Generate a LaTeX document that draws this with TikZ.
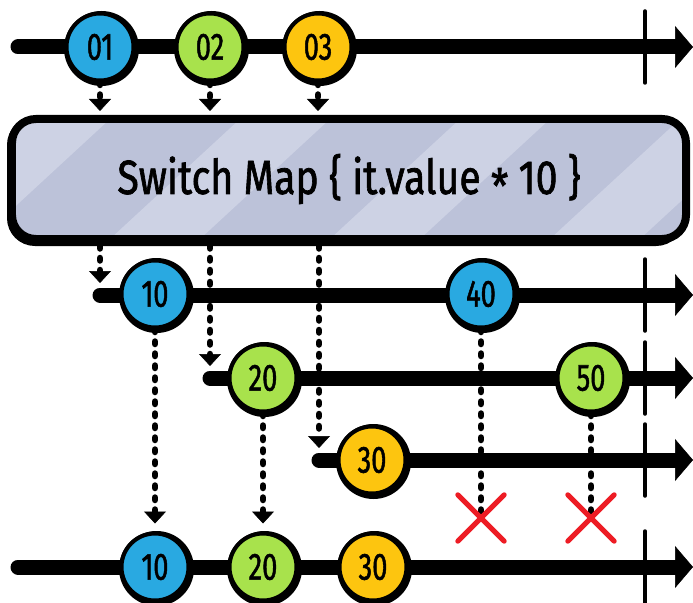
\documentclass[tikz,border=0pt]{standalone}
\usepackage{fontspec}
\setmainfont{Fira Sans}
\newfontfamily\sketchfont{Fira Sans}[FakeBold=1.6]
\usetikzlibrary{arrows.meta,calc}
\definecolor{cblue}{HTML}{29A9E1}
\definecolor{cgreen}{HTML}{A8E24C}
\definecolor{cyellow}{HTML}{FDC50F}
\definecolor{boxfill}{HTML}{BCC2D9}
\definecolor{boxlight}{HTML}{CDD2E4}
\definecolor{xred}{HTML}{ED1C24}
\newcommand\marbleat[5]{%
  \fill[black] (#2+1.5,#3+1.5) circle[radius=37.5];
  \node[marble,fill=#4] (#1) at (#2,#3) {\scalebox{0.72}[1]{#5}};}
\begin{document}
\begin{tikzpicture}[x=1bp,y=-1bp,
  timeline/.style={line width=15bp, line cap=round, -{Triangle[width=42bp,length=18bp,line width=0.5bp]}},
  tickmark/.style={line width=3.5bp, line cap=round},
  marble/.style={circle, draw=black, line width=4bp, minimum size=67bp, inner sep=0pt, font=\sketchfont\fontsize{38}{38}\selectfont},
  dotline/.style={line width=6.5bp, line cap=round, dash pattern=on 2.5bp off 9.5bp},
  dotarrow/.style={dotline, -{Triangle[width=22bp,length=12bp,line width=0.5bp]}},
  crossmark/.style={rectangle, minimum width=46bp, minimum height=46bp, inner sep=0pt},
  crossstroke/.style={draw=xred, line width=5bp, line cap=round}
]
\useasboundingbox (0,0) rectangle (693,603);

% operator box
\fill[black, rounded corners=28] (7,117) rectangle (684,246);
\begin{scope}
  \clip[rounded corners=24] (12,119) rectangle (686,239);
  \fill[boxfill] (0,100) rectangle (693,260);
  \foreach \a in {40,260,480,700}
    \fill[boxlight] (\a-150,239) -- (\a-60,239) -- (\a+70,119) -- (\a-20,119) -- cycle;
\end{scope}
\node[draw, line width=8bp, rounded corners=24, minimum width=674bp, minimum height=120bp,
      inner sep=0pt, font=\sketchfont\fontsize{48}{48}\selectfont] (box) at (349,179)
      {\scalebox{0.82}[1]{Switch Map \{ it.value {\raisebox{-0.2em}{*}} 10 \}}};

% timelines
\coordinate (l1s) at (18,47);   \coordinate (l1e) at (693,47);
\coordinate (l2s) at (100,295); \coordinate (l2e) at (693,295);
\coordinate (l3s) at (210,378); \coordinate (l3e) at (693,378);
\coordinate (l4s) at (319,460); \coordinate (l4e) at (693,460);
\coordinate (l5s) at (18,567);  \coordinate (l5e) at (693,567);
\foreach \n in {1,...,5} \draw[timeline] (l\n s) -- (l\n e);

% completion ticks
\foreach \y in {47,295,378,460,567}
  \draw[tickmark] (645,\y-36) -- (645,\y+36);

% marbles
\marbleat{m01}{100}{47}{cblue}{01}
\marbleat{m02}{210}{47}{cgreen}{02}
\marbleat{m03}{318}{47}{cyellow}{03}
\marbleat{m10}{155}{294}{cblue}{10}
\marbleat{m40}{481}{294}{cblue}{40}
\marbleat{m20}{263}{378}{cgreen}{20}
\marbleat{m50}{591}{378}{cgreen}{50}
\marbleat{m30}{372}{460}{cyellow}{30}
\marbleat{o10}{155}{567}{cblue}{10}
\marbleat{o20}{263}{567}{cgreen}{20}
\marbleat{o30}{373}{567}{cyellow}{30}

% connectors
\draw[dotarrow] (m01.south) -- ($(box.north -| m01)+(0,-4)$);
\draw[dotarrow] (m02.south) -- ($(box.north -| m02)+(0,-4)$);
\draw[dotarrow] (m03.south) -- ($(box.north -| m03)+(0,-4)$);
\draw[dotarrow] ($(box.south -| l2s)+(0,3)$) -- ($(l2s)+(0,-12)$);
\draw[dotarrow] ($(box.south -| l3s)+(0,3)$) -- ($(l3s)+(0,-12)$);
\draw[dotarrow] ($(box.south -| l4s)+(0,3)$) -- ($(l4s)+(0,-12)$);
\draw[dotarrow, shorten >=8bp] (m10.south) -- (o10.north);
\draw[dotarrow, shorten >=8bp] (m20.south) -- (o20.north);

% cancelled emissions
\node[crossmark] (x40) at (481,518) {};
\node[crossmark] (x50) at (591,518) {};
\draw[dotline] (m40.south) -- ($(x40.center)+(0,-6)$);
\draw[dotline] (m50.south) -- ($(x50.center)+(0,-6)$);
\foreach \c in {x40,x50} {
  \draw[crossstroke] (\c.north west) -- (\c.south east);
  \draw[crossstroke] (\c.north east) -- (\c.south west);
}
\end{tikzpicture}
\end{document}
